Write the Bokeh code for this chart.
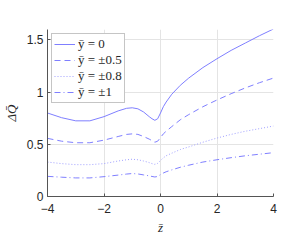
from bokeh.plotting import figure
from bokeh.models import Range1d, FixedTicker, Legend, LegendItem
from bokeh.embed import file_html
from bokeh.resources import INLINE

z = [-4, -3.5, -3, -2.5, -2, -1.5, -1.2, -1, -0.8, -0.6, -0.4, -0.3, -0.2, -0.1,
     0, 0.1, 0.2, 0.4, 0.7, 1, 1.5, 2, 2.5, 3, 3.5, 4]
q_y0 = [0.80, 0.755, 0.725, 0.725, 0.765, 0.82, 0.845, 0.85, 0.84, 0.81, 0.765, 0.745, 0.73, 0.745,
        0.80, 0.86, 0.905, 0.98, 1.065, 1.135, 1.235, 1.32, 1.40, 1.47, 1.54, 1.605]
q_y05 = [0.557, 0.53, 0.515, 0.515, 0.54, 0.575, 0.595, 0.60, 0.595, 0.575, 0.55, 0.535, 0.52, 0.53,
         0.565, 0.60, 0.625, 0.67, 0.735, 0.785, 0.86, 0.925, 0.985, 1.04, 1.09, 1.135]
q_y08 = [0.33, 0.315, 0.305, 0.305, 0.315, 0.34, 0.352, 0.357, 0.352, 0.34, 0.325, 0.315, 0.308, 0.318,
         0.345, 0.37, 0.39, 0.415, 0.45, 0.475, 0.52, 0.56, 0.595, 0.625, 0.65, 0.675]
q_y1 = [0.193, 0.185, 0.178, 0.178, 0.19, 0.205, 0.215, 0.22, 0.216, 0.207, 0.198, 0.192, 0.187, 0.192,
        0.21, 0.225, 0.237, 0.255, 0.28, 0.30, 0.33, 0.352, 0.372, 0.39, 0.405, 0.42]
labels = ["\u0233 = 0", "\u0233 = \u00b10.5", "\u0233 = \u00b10.8", "\u0233 = \u00b11"]
x_ticks = [-4, -2, 0, 2, 4]
y_ticks = [0, 0.5, 1, 1.5]

p = figure(width=281, height=240, output_backend="svg", toolbar_location=None,
           x_range=Range1d(-4, 4), y_range=Range1d(0, 1.6),
           min_border_left=45, min_border_right=8, min_border_top=29, min_border_bottom=44)
p.outline_line_color = None
p.background_fill_color = "white"
p.border_fill_color = "white"

col = "#7f7fff"
r1 = p.line(z, q_y0, line_color=col, line_width=1)
r2 = p.line(z, q_y05, line_color=col, line_width=1, line_dash="6 4")
r3 = p.line(z, q_y08, line_color="#a0a0ff", line_width=1, line_dash="1 2")
r4 = p.line(z, q_y1, line_color=col, line_width=1, line_dash="6 3 1 3")

for ax in (p.xaxis[0], p.yaxis[0]):
    ax.major_tick_in = 3
    ax.major_tick_out = 0
    ax.minor_tick_line_color = None
    ax.axis_line_color = "#555555"
    ax.major_tick_line_color = "#555555"
    ax.major_label_text_font = "Liberation Sans"
    ax.major_label_text_font_size = "12px"
    ax.major_label_text_color = "#262626"
    ax.axis_label_text_font = "Liberation Serif"
    ax.axis_label_text_font_style = "italic"
    ax.axis_label_text_font_size = "13px"
    ax.axis_label_text_color = "#262626"

p.xaxis.ticker = FixedTicker(ticks=x_ticks)
p.yaxis.ticker = FixedTicker(ticks=y_ticks)
p.yaxis.major_label_overrides = {0: "0", 0.5: "0.5", 1: "1", 1.5: "1.5"}
p.xaxis.major_label_standoff = 7
p.yaxis.major_label_standoff = 4
p.xaxis.axis_label = "z\u0304"
p.yaxis.axis_label = "\u0394Q\u0304"
p.xaxis.axis_label_standoff = 4
p.yaxis.axis_label_standoff = 5

p.xgrid.grid_line_color = "#e4e4e4"
p.ygrid.grid_line_color = "#e4e4e4"

legend = Legend(items=[LegendItem(label=labels[0], renderers=[r1]),
                       LegendItem(label=labels[1], renderers=[r2]),
                       LegendItem(label=labels[2], renderers=[r3]),
                       LegendItem(label=labels[3], renderers=[r4])],
                location="top_left", margin=4, padding=2, spacing=0,
                glyph_width=21, glyph_height=14, label_height=14, label_standoff=3,
                label_text_font="Liberation Serif", label_text_font_size="13px",
                label_text_color="#262626",
                border_line_color="#8c8c8c", border_line_width=1,
                background_fill_color="white", background_fill_alpha=1.0)
p.add_layout(legend, "center")

open("out.html", "w").write(file_html(p, INLINE))
